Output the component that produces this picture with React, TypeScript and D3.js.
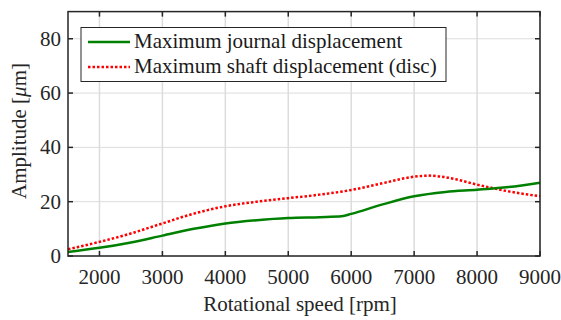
import React, { useEffect, useRef } from "react";
import * as d3 from "d3";

const rpm = [1500, 2000, 2500, 3000, 3500, 4000, 4500, 5000, 5500, 5850, 6000, 6500, 7000, 7500, 8000, 8500, 9000];
const journal = [1.5, 3.0, 5.0, 7.5, 10.0, 12.0, 13.2, 14.0, 14.3, 14.6, 15.5, 19.0, 22.0, 23.6, 24.4, 25.4, 27.0];

const rpmShaft = [1500, 2000, 2500, 3000, 3500, 4000, 4500, 5000, 5500, 6000, 6500, 7000, 7250, 7500, 8000, 8500, 9000];
const shaft = [2.5, 5.2, 8.3, 12.0, 15.6, 18.3, 20.0, 21.3, 22.6, 24.3, 26.8, 29.2, 29.6, 29.0, 26.3, 23.8, 22.0];

const xTicks = [2000, 3000, 4000, 5000, 6000, 7000, 8000, 9000];
const yTicks = [0, 20, 40, 60, 80];
const legendLabels = ["Maximum journal displacement", "Maximum shaft displacement (disc)"];

const W = 561;
const H = 320;
const FONT = "Liberation Serif, Times New Roman, Times, DejaVu Serif, serif";

export default function App() {
  const ref = useRef<SVGSVGElement>(null);

  useEffect(() => {
    const svg = d3.select(ref.current);
    svg.selectAll("*").remove();

    const left = 68, right = 540, top = 11.6, bottom = 256;
    const x = d3.scaleLinear().domain([1500, 9000]).range([left, right]);
    const y = d3.scaleLinear().domain([0, 90]).range([bottom, top]);

    svg.append("rect").attr("width", W).attr("height", H).attr("fill", "#fff");

    // grid
    const grid = svg.append("g").attr("stroke", "#dcdcdc").attr("stroke-width", 1);
    xTicks.forEach((t) => {
      grid.append("line").attr("x1", x(t)).attr("x2", x(t)).attr("y1", top).attr("y2", bottom).attr("stroke-width", 1.5);
    });
    yTicks.forEach((t) => {
      grid.append("line").attr("x1", left).attr("x2", right).attr("y1", y(t)).attr("y2", y(t));
    });

    // lines
    const pts = (xs: number[], ys: number[]) => xs.map((v, i) => [v, ys[i]] as [number, number]);
    const line = d3.line<[number, number]>()
      .x((d) => x(d[0]))
      .y((d) => y(d[1]))
      .curve(d3.curveMonotoneX);

    svg.append("path")
      .attr("d", line(pts(rpmShaft, shaft)))
      .attr("fill", "none")
      .attr("stroke", "#ff0000")
      .attr("stroke-width", 2.5)
      .attr("stroke-dasharray", "2.5,2");

    svg.append("path")
      .attr("d", line(pts(rpm, journal)))
      .attr("fill", "none")
      .attr("stroke", "#008000")
      .attr("stroke-width", 2.5);

    // axes box and ticks
    const ax = svg.append("g").attr("stroke", "#262626").attr("stroke-width", 1.5).attr("fill", "none");
    ax.append("rect").attr("x", left).attr("y", top).attr("width", right - left).attr("height", bottom - top);
    xTicks.forEach((t) => {
      ax.append("line").attr("x1", x(t)).attr("x2", x(t)).attr("y1", bottom).attr("y2", bottom - 5);
      ax.append("line").attr("x1", x(t)).attr("x2", x(t)).attr("y1", top).attr("y2", top + 5);
    });
    yTicks.forEach((t) => {
      ax.append("line").attr("x1", left).attr("x2", left + 5).attr("y1", y(t)).attr("y2", y(t));
      ax.append("line").attr("x1", right).attr("x2", right - 5).attr("y1", y(t)).attr("y2", y(t));
    });

    const txt = svg.append("g").style("font-family", FONT).attr("fill", "#262626").attr("font-size", 21);
    xTicks.forEach((t) => {
      txt.append("text").attr("x", x(t)).attr("y", 283.5).attr("text-anchor", "middle").text(String(t));
    });
    yTicks.forEach((t) => {
      txt.append("text").attr("x", 61).attr("y", y(t) + 7).attr("text-anchor", "end").text(String(t));
    });

    txt.append("text").attr("x", 300).attr("y", 311).attr("text-anchor", "middle").text("Rotational speed [rpm]");
    const yl = txt.append("text")
      .attr("transform", "translate(26,131) rotate(-90)")
      .attr("text-anchor", "middle");
    yl.append("tspan").text("Amplitude [");
    yl.append("tspan").attr("font-style", "italic").text("\u03bc");
    yl.append("tspan").text("m]");

    // legend
    const lg = svg.append("g");
    lg.append("rect").attr("x", 81).attr("y", 27.5).attr("width", 365).attr("height", 54)
      .attr("fill", "#fff").attr("stroke", "#262626").attr("stroke-width", 1);
    const colors = ["#008000", "#ff0000"];
    legendLabels.forEach((lab, i) => {
      const ly = 42 + i * 25;
      lg.append("line").attr("x1", 88).attr("x2", 130).attr("y1", ly).attr("y2", ly)
        .attr("stroke", colors[i]).attr("stroke-width", 2.5)
        .attr("stroke-dasharray", i === 1 ? "2.5,2" : null);
      lg.append("text").attr("x", 134).attr("y", ly + 6).style("font-family", FONT)
        .attr("font-size", 21).attr("fill", "#1a1a1a").text(lab);
    });
  }, []);

  return (
    <svg ref={ref} width={W} height={H} style={{ position: "absolute", left: 0, top: 0, display: "block" }} />
  );
}
